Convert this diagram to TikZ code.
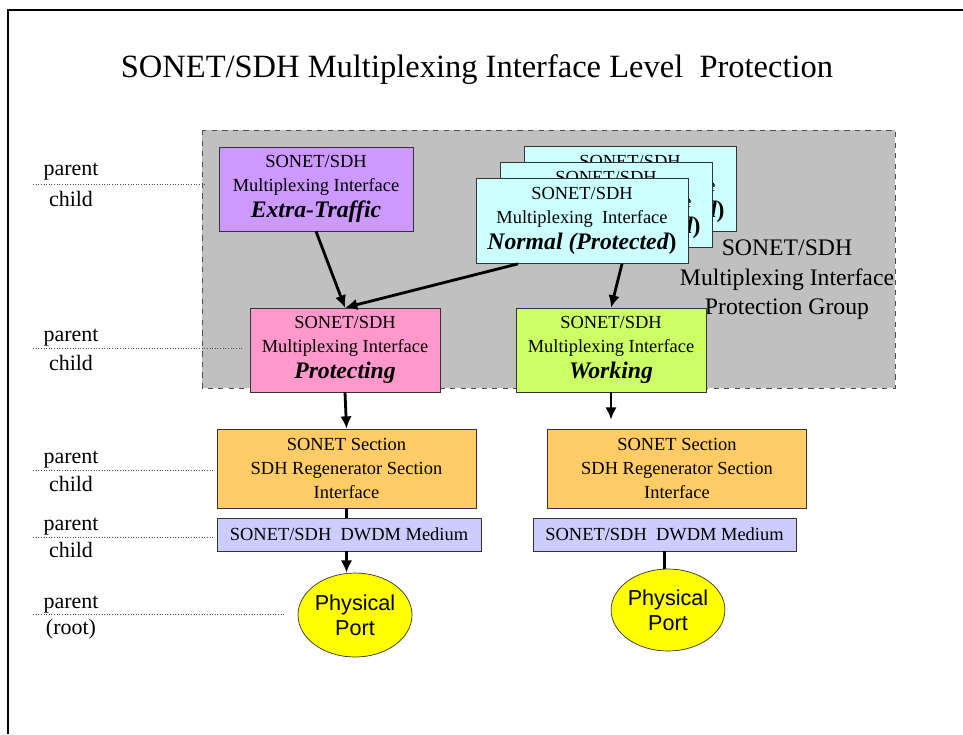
\documentclass[tikz,border=0pt]{standalone}
\usepackage{fontspec}
\setmainfont{Liberation Serif}
\newfontfamily\portfont{Liberation Sans}
\usetikzlibrary{arrows.meta,positioning,shapes.geometric}

\definecolor{groupgray}{HTML}{C0C0C0}
\definecolor{extrapurple}{HTML}{CC99FF}
\definecolor{normalcyan}{HTML}{CCFFFF}
\definecolor{protpink}{HTML}{FF99CC}
\definecolor{worklime}{HTML}{CCFF66}
\definecolor{secorange}{HTML}{FFCC66}
\definecolor{dwdmblue}{HTML}{CCCCFF}
\definecolor{portyellow}{HTML}{FFFF00}
\newcommand{\rolefont}{\fontsize{13.5}{15}\selectfont\bfseries\itshape}

\begin{document}
\begin{tikzpicture}[x=0.02cm,y=-0.02cm,>={Latex[length=7pt,width=6.5pt]},semithick]
      \tikzstyle{ifbox}=[draw=black!80,thin,align=center,inner sep=1pt,font=\fontsize{10.5}{13.5}\selectfont]
      \tikzstyle{mux}=[ifbox,minimum width=3.8cm,minimum height=1.68cm]
      \tikzstyle{normbox}=[mux,fill=normalcyan,minimum width=4.24cm,minimum height=1.7cm]
      \tikzstyle{secbox}=[ifbox,fill=secorange,minimum width=5.18cm,minimum height=1.58cm]
      \tikzstyle{dwdmbox}=[ifbox,fill=dwdmblue,minimum width=5.28cm,minimum height=0.66cm]
      \tikzstyle{port}=[ellipse,draw=black!80,thin,fill=portyellow,inner sep=0pt,align=center,minimum width=2.28cm,minimum height=1.68cm,font=\portfont\fontsize{12.3}{14.2}\selectfont]
      \tikzstyle{lvl}=[inner sep=0pt,font=\fontsize{12.5}{14}\selectfont]
      \tikzstyle{sep}=[densely dotted,black!70,line width=0.5pt]
      \tikzstyle{arr}=[->,line width=1.6pt]
      \useasboundingbox (0,0) rectangle (963,734);
      \draw[line width=1.3pt] (8,734) -- (8,10) -- (963,10);

      \node[font=\fontsize{18.5}{20}\selectfont] (title) at (477,70) {SONET/SDH Multiplexing Interface Level\ \ Protection};

      \draw[dashed,black!70,thin,fill=groupgray] (202,130) rectangle (895,388);

      \node[mux,fill=extrapurple,minimum width=3.88cm] (extra) at (316,189) {SONET/SDH\\Multiplexing Interface\\[1pt]{\rolefont Extra-Traffic}};
      \node[normbox] (normb) at (630,189) {SONET/SDH\\Multiplexing\ \ Interface\\[1pt]{\rolefont Normal (Protected}{\rolefont\upshape)}};
      \node[normbox] (normm) at ([shift={(-24,16)}]normb) {SONET/SDH\\Multiplexing\ \ Interface\\[1pt]{\rolefont Normal (Protected}{\rolefont\upshape)}};
      \node[normbox] (normf) at ([shift={(-24,16)}]normm) {SONET/SDH\\Multiplexing\ \ Interface\\[1pt]{\rolefont Normal (Protected}{\rolefont\upshape)}};
      \node[align=center,font=\fontsize{13.5}{16.7}\selectfont] (group) at (787,280) {SONET/SDH\\Multiplexing Interface\\Protection Group};

      \node[mux,fill=protpink] (prot) at (345,350) {SONET/SDH\\Multiplexing Interface\\[1pt]{\rolefont Protecting}};
      \node[mux,fill=worklime] (work) at (611,350) {SONET/SDH\\Multiplexing Interface\\[1pt]{\rolefont Working}};

      \node[secbox] (secL) at (346.5,468.5) {SONET Section\\SDH Regenerator Section\\Interface};
      \node[secbox] (secR) at (677,468.5) {SONET Section\\SDH Regenerator Section\\Interface};
      \node[dwdmbox] (dwdmL) at (349,534.5) {SONET/SDH\ \ DWDM Medium};
      \node[dwdmbox,minimum width=5.26cm] (dwdmR) at (664.5,534.5) {SONET/SDH\ \ DWDM Medium};
      \node[port] (portL) at (355,615) {Physical\\Port};
      \node[port,minimum width=2.26cm,minimum height=1.64cm] (portR) at (668,610) {Physical\\Port};

      \draw[arr] (extra.south) -- (prot.north);
      \draw[arr] ([xshift=-1.28cm]normf.south) -- (prot.north);
      \draw[arr] ([xshift=0.8cm]normf.south) -- (work.north);
      \draw[arr] (prot.south) -- (secL.north);
      \draw[arr,shorten >=0.18cm] (work.south) -- (work.south |- secR.north);
      \draw[line width=1.6pt] (secL.south) -- (secL.south |- dwdmL.north);
      \draw[arr] (secL.south |- dwdmL.south) -- (secL.south |- portL.north);
      \draw[line width=1.6pt] (dwdmR.south) -- (dwdmR.south |- portR.north);

      \node[lvl] (par1) at (71,172) {parent};
      \node[lvl] (chi1) at (71,199) {child};
      \draw[sep] (33,184) -- (205,184);
      \node[lvl] (par2) at (71,338) {parent};
      \node[lvl] (chi2) at (71,363) {child};
      \draw[sep] (33,348) -- (242,348);
      \node[lvl] (par3) at (71,460) {parent};
      \node[lvl] (chi3) at (71,484) {child};
      \draw[sep] (33,470) -- (213,470);
      \node[lvl] (par4) at (71,527) {parent};
      \node[lvl] (chi4) at (71,550) {child};
      \draw[sep] (33,537) -- (213,537);
      \node[lvl] (par5) at (71,605) {parent};
      \node[lvl] (root) at (71,629) {(root)};
      \draw[sep] (33,614) -- (285,614);
\end{tikzpicture}
\end{document}
